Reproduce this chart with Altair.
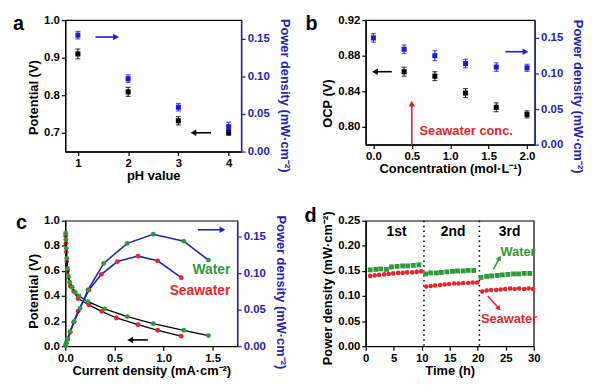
import altair as alt
import pandas as pd

# ---------------- data ----------------
# panel a
ph = [1, 2, 3, 4]
ph_potential = [0.910, 0.809, 0.732, 0.701]
ph_potential_err = [0.013, 0.012, 0.011, 0.008]
ph_power = [0.155, 0.097, 0.059, 0.033]
ph_power_err = [0.005, 0.005, 0.005, 0.006]

# panel b
conc_ocp = [0.4, 0.8, 1.2, 1.6, 2.0]
ocp = [0.862, 0.857, 0.838, 0.822, 0.814]
ocp_err = [0.005, 0.005, 0.005, 0.005, 0.004]
conc_pow = [0.0, 0.4, 0.8, 1.2, 1.6, 2.0]
conc_power = [0.150, 0.134, 0.125, 0.114, 0.109, 0.108]
conc_power_err = [0.006, 0.006, 0.007, 0.006, 0.006, 0.005]

# panel c
w_pol_j = [0.003, 0.006, 0.010, 0.015, 0.022, 0.030, 0.045, 0.070, 0.100, 0.140, 0.230, 0.400, 0.630, 0.895, 1.205, 1.457]
w_pol_v = [0.900, 0.850, 0.780, 0.700, 0.620, 0.560, 0.510, 0.470, 0.430, 0.400, 0.355, 0.297, 0.236, 0.180, 0.127, 0.085]
s_pol_j = [0.003, 0.006, 0.010, 0.015, 0.022, 0.030, 0.050, 0.085, 0.130, 0.240, 0.370, 0.520, 0.740, 0.940, 1.180]
s_pol_v = [0.880, 0.820, 0.750, 0.680, 0.600, 0.550, 0.480, 0.437, 0.380, 0.329, 0.278, 0.225, 0.172, 0.127, 0.080]
w_pow_j = [0.003, 0.010, 0.024, 0.050, 0.090, 0.150, 0.230, 0.390, 0.630, 0.895, 1.205, 1.457]
w_pow_p = [0.001, 0.005, 0.010, 0.020, 0.034, 0.052, 0.077, 0.1135, 0.141, 0.1535, 0.144, 0.118]
s_pow_j = [0.003, 0.010, 0.025, 0.050, 0.085, 0.130, 0.240, 0.367, 0.530, 0.740, 0.940, 1.180]
s_pow_p = [0.001, 0.004, 0.010, 0.019, 0.033, 0.048, 0.077, 0.0985, 0.116, 0.1235, 0.117, 0.094]

# panel d
water_t = [0.8, 1.8, 2.7, 3.7, 4.6, 5.6, 6.6, 7.5, 8.5, 9.5,
           10.7, 11.6, 12.6, 13.5, 14.5, 15.5, 16.4, 17.4, 18.3, 19.3,
           20.6, 21.6, 22.5, 23.5, 24.4, 25.4, 26.4, 27.3, 28.3, 29.3]
water_p = [0.152, 0.153, 0.154, 0.153, 0.158, 0.159, 0.160, 0.160, 0.161, 0.162,
           0.144, 0.146, 0.146, 0.147, 0.148, 0.149, 0.150, 0.150, 0.151, 0.151,
           0.137, 0.139, 0.140, 0.141, 0.142, 0.143, 0.144, 0.144, 0.145, 0.145]
sea_t = [0.8, 1.6, 2.4, 3.3, 4.1, 4.9, 5.8, 6.6, 7.4, 8.3, 9.1, 9.9,
         10.8, 11.6, 12.4, 13.3, 14.1, 14.9, 15.8, 16.6, 17.4, 18.3, 19.1, 19.9,
         20.8, 21.6, 22.4, 23.3, 24.1, 24.9, 25.8, 26.6, 27.4, 28.3, 29.1, 29.9]
sea_p = [0.140, 0.141, 0.142, 0.143, 0.144, 0.145, 0.146, 0.146, 0.147, 0.147, 0.148, 0.149,
         0.119, 0.120, 0.121, 0.122, 0.123, 0.124, 0.125, 0.125, 0.126, 0.126, 0.127, 0.127,
         0.109, 0.111, 0.112, 0.112, 0.113, 0.114, 0.115, 0.114, 0.115, 0.114, 0.115, 0.114]
cycle_x = [5.5, 15.6, 25.7]
cycle_lab = ["1st", "2nd", "3rd"]
cycle_split = [10.4, 20.3]

# ---------------- style ----------------
FONT = "Liberation Sans"
BLUE = "#2222bb"
BLUE_PT = "#1a1ae0"
GREEN = "#2f9a3a"
RED = "#e2262b"
RIGHT_TITLE = "Power density (mW·cm⁻²)"


def right_axis(values, titleY):
    return alt.Axis(orient="right", title=RIGHT_TITLE, values=values, format=".2f",
                    labelColor=BLUE, titleColor=BLUE, domainColor=BLUE, tickColor=BLUE,
                    titleY=titleY, domainWidth=1.5, titlePadding=8)


def letter(ch, dx, dy):
    return alt.Chart(pd.DataFrame({"t": [ch]})).mark_text(
        fontSize=20, fontWeight="bold", font=FONT, align="left", baseline="alphabetic", color="black"
    ).encode(text="t:N", x=alt.value(dx), y=alt.value(dy))


def errbar_layers(df, xf, yf, ef, color, X, Y):
    d = df.copy()
    d["lo"] = d[yf] - d[ef]
    d["hi"] = d[yf] + d[ef]
    base = alt.Chart(d)
    rule = base.mark_rule(color=color, strokeWidth=1).encode(x=X(xf), y=Y("lo"), y2="hi:Q")
    t1 = base.mark_tick(color=color, orient="horizontal", size=5, thickness=1.2).encode(x=X(xf), y=Y("lo"))
    t2 = base.mark_tick(color=color, orient="horizontal", size=5, thickness=1.2).encode(x=X(xf), y=Y("hi"))
    pts = base.mark_square(color=color, size=26, opacity=1).encode(x=X(xf), y=Y(yf))
    return [rule, t1, t2, pts]


def arrow(x0, y0, x1, y1, color, shape, angle, X, Y, size=45):
    d = pd.DataFrame({"x0": [x0], "y0": [y0], "x1": [x1], "y1": [y1]})
    line = alt.Chart(d).mark_rule(color=color, strokeWidth=1.6).encode(
        x=X("x0"), y=Y("y0"), x2="x1:Q", y2="y1:Q")
    head = alt.Chart(d).mark_point(shape=shape, filled=True, color=color, size=size, angle=angle,
                                   opacity=1).encode(x=X("x1"), y=Y("y1"))
    return [line, head]


# ---------------- panel a ----------------
dfa = pd.DataFrame({"ph": ph, "v": ph_potential, "ve": ph_potential_err,
                    "p": ph_power, "pe": ph_power_err})
xs_a = alt.Scale(domain=[0.75, 4.25], nice=False, zero=False)
xa_a = alt.Axis(title="pH value", values=[1, 2, 3, 4], format="d")
Xa = lambda f: alt.X(f, type="quantitative", scale=xs_a, axis=xa_a)
ysl_a = alt.Scale(domain=[0.65, 1.0], nice=False, zero=False)
yal_a = alt.Axis(title="Potential (V)", values=[0.7, 0.8, 0.9, 1.0], format=".1f", titleY=78)
Yla = lambda f: alt.Y(f, type="quantitative", scale=ysl_a, axis=yal_a)
ysr_a = alt.Scale(domain=[0, 0.175], nice=False, zero=False)
yar_a = right_axis([0, 0.05, 0.10, 0.15], 76)
Yra = lambda f: alt.Y(f, type="quantitative", scale=ysr_a, axis=yar_a)

left_a = alt.layer(*errbar_layers(dfa, "ph", "v", "ve", "black", Xa, Yla),
                   *arrow(3.65, 0.70, 3.30, 0.70, "black", "triangle-left", 0, Xa, Yla),
                   letter("a", -53, 10))
right_a = alt.layer(*errbar_layers(dfa, "ph", "p", "pe", BLUE_PT, Xa, Yra),
                    *arrow(1.35, 0.1525, 1.76, 0.1525, BLUE_PT, "triangle-right", 0, Xa, Yra))
pa = alt.layer(left_a, right_a).resolve_scale(y="independent").properties(width=178, height=133)

# ---------------- panel b ----------------
dfb1 = pd.DataFrame({"c": conc_ocp, "v": ocp, "ve": ocp_err})
dfb2 = pd.DataFrame({"c": conc_pow, "p": conc_power, "pe": conc_power_err})
xs_b = alt.Scale(domain=[-0.1, 2.1], nice=False, zero=False)
xa_b = alt.Axis(title="Concentration (mol·L⁻¹)", values=[0, 0.5, 1.0, 1.5, 2.0], format=".1f")
Xb = lambda f: alt.X(f, type="quantitative", scale=xs_b, axis=xa_b)
ysl_b = alt.Scale(domain=[0.78, 0.92], nice=False, zero=False)
yal_b = alt.Axis(title="OCP (V)", values=[0.80, 0.84, 0.88, 0.92], format=".2f", titleY=84)
Ylb = lambda f: alt.Y(f, type="quantitative", scale=ysl_b, axis=yal_b)
ysr_b = alt.Scale(domain=[0, 0.175], nice=False, zero=False)
yar_b = right_axis([0, 0.05, 0.10, 0.15], 77)
Yrb = lambda f: alt.Y(f, type="quantitative", scale=ysr_b, axis=yar_b)

sea_lab_b = alt.Chart(pd.DataFrame({"x": [0.6], "y": [0.7955], "t": ["Seawater conc."]})).mark_text(
    color=RED, fontSize=13, fontWeight="bold", font=FONT, align="left", baseline="middle"
).encode(x=Xb("x"), y=Ylb("y"), text="t:N")
left_b = alt.layer(*errbar_layers(dfb1, "c", "v", "ve", "black", Xb, Ylb),
                   *arrow(0.24, 0.862, 0.02, 0.862, "black", "triangle-left", 0, Xb, Ylb),
                   *arrow(0.5, 0.78, 0.5, 0.826, RED, "triangle-up", 0, Xb, Ylb),
                   sea_lab_b,
                   letter("b", -61, 10))
right_b = alt.layer(*errbar_layers(dfb2, "c", "p", "pe", BLUE_PT, Xb, Yrb),
                    *arrow(1.72, 0.1306, 1.98, 0.1306, BLUE_PT, "triangle-right", 0, Xb, Yrb))
pb = alt.layer(left_b, right_b).resolve_scale(y="independent").properties(width=171, height=126)

# ---------------- panel c ----------------
xs_c = alt.Scale(domain=[0, 1.75], nice=False, zero=False)
xa_c = alt.Axis(title="Current density (mA·cm⁻²)", values=[0, 0.5, 1.0, 1.5], format=".1f")
Xc = lambda f: alt.X(f, type="quantitative", scale=xs_c, axis=xa_c)
ysl_c = alt.Scale(domain=[0, 1.0], nice=False, zero=False)
yal_c = alt.Axis(title="Potential (V)", values=[0, 0.2, 0.4, 0.6, 0.8, 1.0], format=".1f", titleY=71)
Ylc = lambda f: alt.Y(f, type="quantitative", scale=ysl_c, axis=yal_c)
ysr_c = alt.Scale(domain=[0, 0.172], nice=False, zero=False)
yar_c = right_axis([0, 0.05, 0.10, 0.15], 72)
Yrc = lambda f: alt.Y(f, type="quantitative", scale=ysr_c, axis=yar_c)


def curve(js, vs, pt_color, line_color, Y, lw):
    d = pd.DataFrame({"j": js, "v": vs})
    ln = alt.Chart(d).mark_line(color=line_color, strokeWidth=lw).encode(x=Xc("j"), y=Y("v"))
    pt = alt.Chart(d).mark_circle(color=pt_color, size=24, opacity=1).encode(x=Xc("j"), y=Y("v"))
    return [ln, pt]


lab_c = alt.Chart(pd.DataFrame({"x": [1.68, 1.68], "y": [0.607, 0.437], "t": ["Water", "Seawater"],
                                "k": ["w", "s"]})).mark_text(
    fontSize=14, fontWeight="bold", font=FONT, align="right", baseline="middle"
).encode(x=Xc("x"), y=Ylc("y"), text="t:N",
         color=alt.Color("k:N", scale=alt.Scale(domain=["w", "s"], range=[GREEN, RED]), legend=None))
left_c = alt.layer(*curve(s_pol_j, s_pol_v, RED, "black", Ylc, 1.3),
                   *curve(w_pol_j, w_pol_v, GREEN, "black", Ylc, 1.3),
                   *arrow(0.84, 0.05, 0.66, 0.05, "black", "triangle-left", 0, Xc, Ylc),
                   *arrow(1.35, 0.928, 1.60, 0.928, BLUE, "triangle-right", 0, Xc, Ylc),
                   lab_c,
                   letter("c", -50, 8))
right_c = alt.layer(*curve(s_pow_j, s_pow_p, RED, BLUE, Yrc, 1.6),
                    *curve(w_pow_j, w_pow_p, GREEN, BLUE, Yrc, 1.6))
pc = alt.layer(left_c, right_c).resolve_scale(y="independent").properties(width=174, height=127)

# ---------------- panel d ----------------
xs_d = alt.Scale(domain=[0, 30], nice=False, zero=False)
xa_d = alt.Axis(title="Time (h)", values=[0, 5, 10, 15, 20, 25, 30], format="d")
Xd = lambda f: alt.X(f, type="quantitative", scale=xs_d, axis=xa_d)
ys_d = alt.Scale(domain=[0, 0.25], nice=False, zero=False)
ya_d = alt.Axis(title=RIGHT_TITLE, values=[0, 0.05, 0.10, 0.15, 0.20, 0.25], format=".2f", titleY=68)
Yd = lambda f: alt.Y(f, type="quantitative", scale=ys_d, axis=ya_d)

dfw = pd.DataFrame({"t": water_t, "p": water_p})
dfs = pd.DataFrame({"t": sea_t, "p": sea_p})
splits = alt.Chart(pd.DataFrame({"x": cycle_split})).mark_rule(
    color="black", strokeDash=[1.5, 3.5], strokeWidth=1.6).encode(x=Xd("x"))
cyc = alt.Chart(pd.DataFrame({"x": cycle_x, "y": [0.227] * 3, "t": cycle_lab})).mark_text(
    fontSize=14, fontWeight="bold", font=FONT, baseline="middle", color="black"
).encode(x=Xd("x"), y=Yd("y"), text="t:N")
w_pts = alt.Chart(dfw).mark_square(color=GREEN, size=24, opacity=1).encode(x=Xd("t"), y=Yd("p"))
s_pts = alt.Chart(dfs).mark_circle(color=RED, size=22, opacity=1).encode(x=Xd("t"), y=Yd("p"))
lab_d = alt.Chart(pd.DataFrame({"x": [27.2, 25.6], "y": [0.1875, 0.0546], "t": ["Water", "Seawater"],
                                "k": ["w", "s"]})).mark_text(
    fontSize=13, fontWeight="bold", font=FONT, baseline="middle"
).encode(x=Xd("x"), y=Yd("y"), text="t:N",
         color=alt.Color("k:N", scale=alt.Scale(domain=["w", "s"], range=[GREEN, RED]), legend=None))
pd_ = alt.layer(splits, w_pts, s_pts, cyc, lab_d,
                *arrow(22.8, 0.153, 23.9, 0.176, GREEN, "triangle-up", 28, Xd, Yd, size=35),
                *arrow(21.8, 0.100, 23.8, 0.075, RED, "triangle-up", 139, Xd, Yd, size=35),
                letter("d", -62, 1)).properties(width=170, height=127)

chart = alt.concat(pa, pb, pc, pd_, columns=2, spacing={"row": 70, "column": 126},
                   bounds="flush", padding={"left": 4, "top": 3, "right": 8, "bottom": 6}
                   ).configure(font=FONT).configure_view(stroke="black", strokeWidth=1.2
                   ).configure_axis(
    labelFont=FONT, titleFont=FONT, labelFontWeight="bold", titleFontWeight="bold",
    labelFontSize=11.5, titleFontSize=13, labelColor="black", titleColor="black",
    domainColor="black", tickColor="black", grid=False, tickSize=4, domainWidth=1.3,
    tickWidth=1.2, labelPadding=2, titlePadding=3, labelFlush=False
).configure_axisBottom(titlePadding=1)

chart.save("out.html", embed_options={"renderer": "svg", "actions": False})
